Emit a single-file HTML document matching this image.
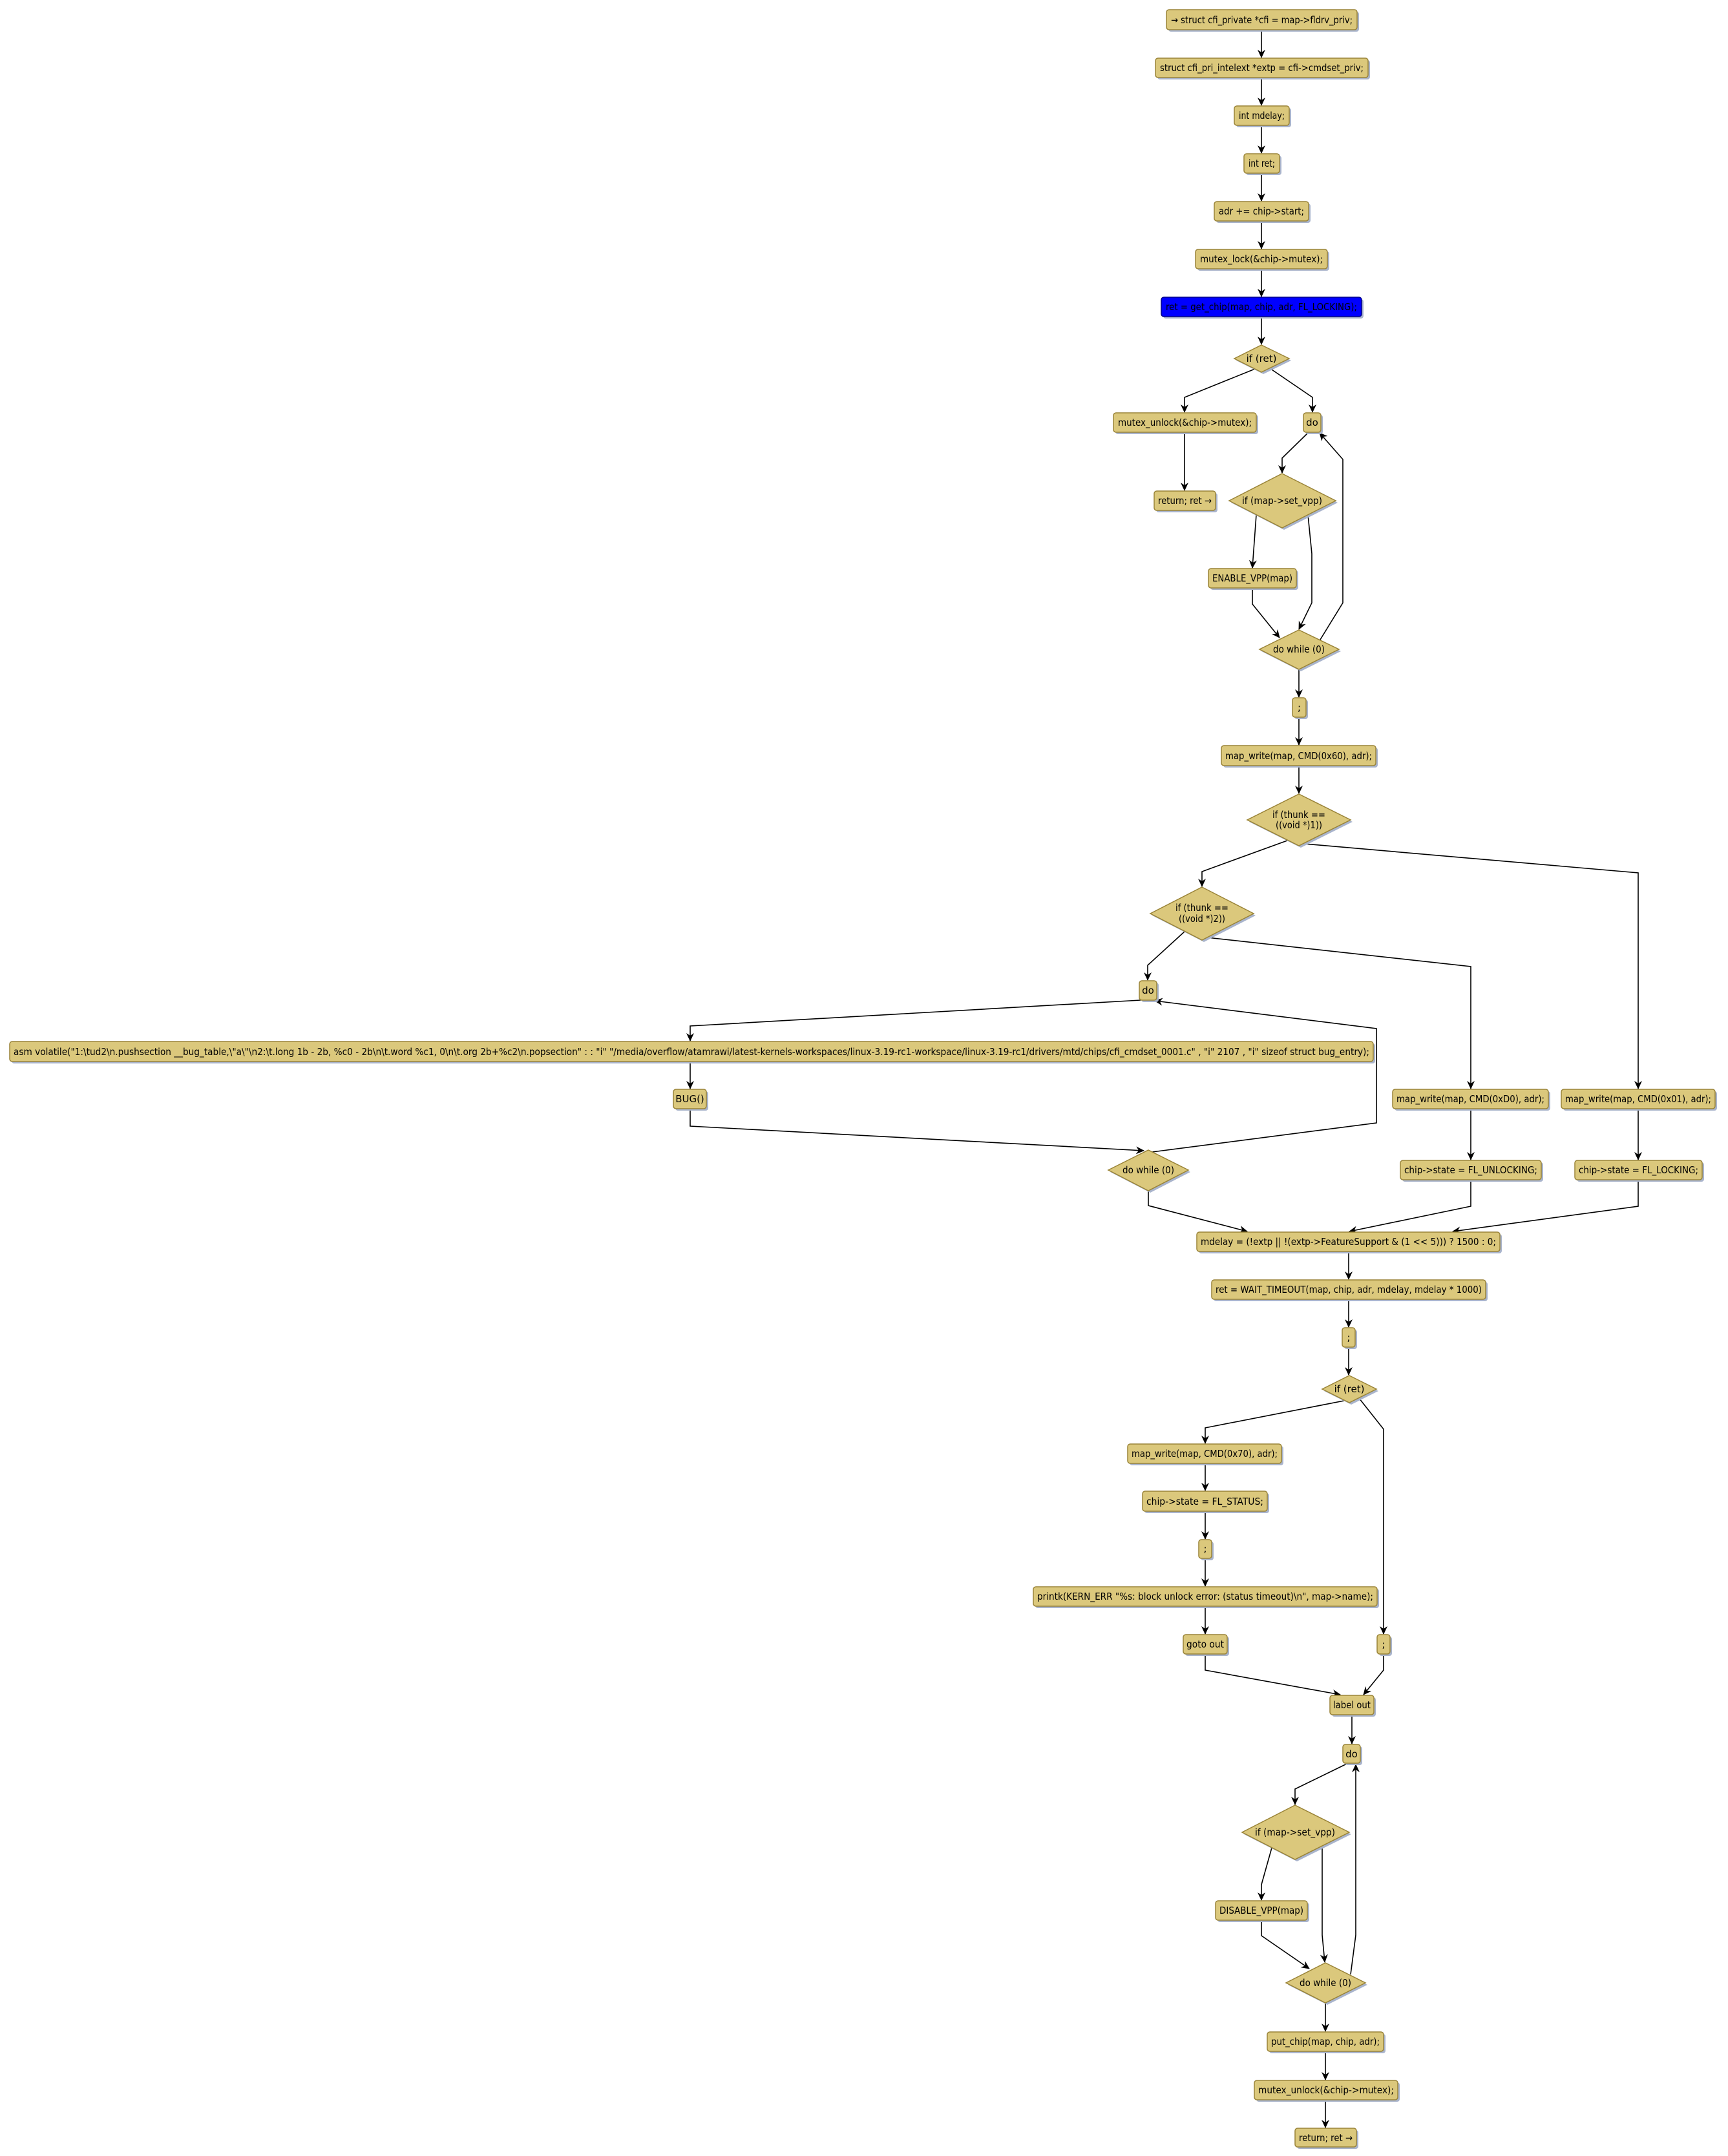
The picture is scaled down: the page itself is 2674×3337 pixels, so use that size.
<!DOCTYPE html>
<html><head><meta charset="utf-8"><style>
html,body{margin:0;padding:0;background:#fff;}
svg{display:block;}
text{font-family:"DejaVu Sans","Liberation Sans",sans-serif;font-size:15px;fill:#000;}
.b{fill:#dbc87c;stroke:#9a8438;stroke-width:1.5;}
.s{fill:#a9b4cc;}
.l{fill:none;stroke:#000;stroke-width:1.6;}
</style></head><body>
<svg width="2674" height="3337" viewBox="0 0 2674 3337" xmlns="http://www.w3.org/2000/svg">
<defs>
<marker id="a" markerUnits="userSpaceOnUse" markerWidth="14" markerHeight="14" refX="12" refY="7" orient="auto">
<path d="M0,1 L13,7 L0,13 L4,7 z" fill="#000"/></marker>
</defs>

<!-- connectors -->
<g class="l" marker-end="url(#a)">
<path d="M1952,46 V89"/>
<path d="M1952,120 V163"/>
<path d="M1952,194 V237"/>
<path d="M1952,268 V311"/>
<path d="M1952,342 V385"/>
<path d="M1952,416 V459"/>
<path d="M1952,490 V533"/>
<path d="M1942,571 L1833,615 V638"/>
<path d="M1833,669 V759"/>
<path d="M1965,570 L2031,615 V638"/>
<path d="M2024,670 L1984,709 V732"/>
<path d="M1944,797 L1938,879"/>
<path d="M2024,797 L2030,857 V933 L2010,974"/>
<path d="M1938,910 V935 L1980,987"/>
<path d="M2043,990 L2078,933 V711 L2042,670"/>
<path d="M2010,1036 V1079"/>
<path d="M2010,1110 V1153"/>
<path d="M2010,1185 V1228"/>
<path d="M1992,1301 L1860,1349 V1372"/>
<path d="M2018,1306 L2535,1351 V1685"/>
<path d="M1834,1441 L1776,1494 V1517"/>
<path d="M1868,1451 L2276,1496 V1685"/>
<path d="M1765,1548 L1068,1588 V1611"/>
<path d="M1068,1643 V1685"/>
<path d="M1068,1716 V1743 L1770,1781"/>
<path d="M1783,1783 L2130,1738 V1592 L1787,1549"/>
<path d="M2276,1716 V1795"/>
<path d="M2535,1716 V1795"/>
<path d="M1777,1843 V1866 L1930,1906"/>
<path d="M2276,1826 V1867 L2088,1906"/>
<path d="M2535,1826 V1867 L2248,1906"/>
<path d="M2087,1937 V1980"/>
<path d="M2087,2011 V2054"/>
<path d="M2087,2085 V2128"/>
<path d="M2080,2168 L1865,2210 V2234"/>
<path d="M1865,2265 V2307"/>
<path d="M1865,2339 V2382"/>
<path d="M1865,2412 V2455"/>
<path d="M1865,2486 V2529"/>
<path d="M2103,2164 L2141,2212 V2529"/>
<path d="M1865,2560 V2585 L2074,2623"/>
<path d="M2141,2560 V2585 L2110,2623"/>
<path d="M2092,2654 V2699"/>
<path d="M2084,2730 L2004,2769 V2793"/>
<path d="M1968,2860 L1952,2917 V2941"/>
<path d="M2046,2857 V2995 L2050,3037"/>
<path d="M1952,2972 V2996 L2026,3047"/>
<path d="M2090,3056 L2098,2995 V2731"/>
<path d="M2051,3100 V3144"/>
<path d="M2051,3175 V3219"/>
<path d="M2051,3250 V3293"/>
</g>

<!-- boxes -->
<g>
<rect class="s" x="1808" y="18" width="295" height="31" rx="4"/><rect class="b" x="1805" y="15" width="295" height="31" rx="4"/>
<text x="1812" y="36" textLength="281" lengthAdjust="spacingAndGlyphs">→ struct cfi_private *cfi = map-&gt;fldrv_priv;</text>

<rect class="s" x="1791" y="93" width="329" height="30" rx="4"/><rect class="b" x="1788" y="90" width="329" height="30" rx="4"/>
<text x="1795" y="110" textLength="315" lengthAdjust="spacingAndGlyphs">struct cfi_pri_intelext *extp = cfi-&gt;cmdset_priv;</text>

<rect class="s" x="1913" y="167" width="85" height="30" rx="4"/><rect class="b" x="1910" y="164" width="85" height="30" rx="4"/>
<text x="1917" y="184" textLength="71" lengthAdjust="spacingAndGlyphs">int mdelay;</text>

<rect class="s" x="1928" y="241" width="55" height="30" rx="4"/><rect class="b" x="1925" y="238" width="55" height="30" rx="4"/>
<text x="1932" y="258" textLength="41" lengthAdjust="spacingAndGlyphs">int ret;</text>

<rect class="s" x="1882" y="315" width="146" height="30" rx="4"/><rect class="b" x="1879" y="312" width="146" height="30" rx="4"/>
<text x="1886" y="332" textLength="132" lengthAdjust="spacingAndGlyphs">adr += chip-&gt;start;</text>

<rect class="s" x="1853" y="389" width="204" height="30" rx="4"/><rect class="b" x="1850" y="386" width="204" height="30" rx="4"/>
<text x="1857" y="406" textLength="190" lengthAdjust="spacingAndGlyphs">mutex_lock(&amp;chip-&gt;mutex);</text>

<rect class="s" x="1800" y="463" width="310" height="30" rx="4"/><rect x="1797" y="460" width="310" height="30" rx="4" fill="#0000ff" stroke="#00008a" stroke-width="1.5"/>
<text x="1804" y="480" textLength="296" lengthAdjust="spacingAndGlyphs">ret = get_chip(map, chip, adr, FL_LOCKING);</text>

<polygon class="s" points="1955,537 1998,558 1955,579 1913,558"/><polygon class="b" points="1952,534 1995,555 1952,576 1910,555"/>
<text x="1952" y="560" text-anchor="middle">if (ret)</text>

<rect class="s" x="1726" y="642" width="221" height="30" rx="4"/><rect class="b" x="1723" y="639" width="221" height="30" rx="4"/>
<text x="1730" y="659" textLength="207" lengthAdjust="spacingAndGlyphs">mutex_unlock(&amp;chip-&gt;mutex);</text>

<rect class="s" x="1789" y="763" width="95" height="30" rx="4"/><rect class="b" x="1786" y="760" width="95" height="30" rx="4"/>
<text x="1792" y="780" textLength="83" lengthAdjust="spacingAndGlyphs">return; ret →</text>

<rect class="s" x="2020" y="642" width="27" height="30" rx="4"/><rect class="b" x="2017" y="639" width="27" height="30" rx="4"/>
<text x="2030.5" y="659" text-anchor="middle">do</text>

<polygon class="s" points="1987,736 2070,778 1987,820 1905,778"/><polygon class="b" points="1984,733 2067,775 1984,817 1902,775"/>
<text x="1984" y="780" text-anchor="middle" textLength="124" lengthAdjust="spacingAndGlyphs">if (map-&gt;set_vpp)</text>

<rect class="s" x="1873" y="883" width="136" height="30" rx="4"/><rect class="b" x="1870" y="880" width="136" height="30" rx="4"/>
<text x="1876" y="900" textLength="124" lengthAdjust="spacingAndGlyphs">ENABLE_VPP(map)</text>

<polygon class="s" points="2013,978 2075,1008 2013,1039 1952,1008"/><polygon class="b" points="2010,975 2072,1005 2010,1036 1949,1005"/>
<text x="2010" y="1010" text-anchor="middle" textLength="80" lengthAdjust="spacingAndGlyphs">do while (0)</text>

<rect class="s" x="2003" y="1083" width="21" height="30" rx="4"/><rect class="b" x="2000" y="1080" width="21" height="30" rx="4"/>
<text x="2010.5" y="1100" text-anchor="middle">;</text>

<rect class="s" x="1893" y="1157" width="239" height="31" rx="4"/><rect class="b" x="1890" y="1154" width="239" height="31" rx="4"/>
<text x="1896" y="1175" textLength="227" lengthAdjust="spacingAndGlyphs">map_write(map, CMD(0x60), adr);</text>

<polygon class="s" points="2013,1232 2093,1272 2013,1312 1933,1272"/><polygon class="b" points="2010,1229 2090,1269 2010,1309 1930,1269"/>
<text x="2010" y="1266" text-anchor="middle" textLength="82" lengthAdjust="spacingAndGlyphs">if (thunk ==</text>
<text x="2010" y="1282" text-anchor="middle" textLength="72" lengthAdjust="spacingAndGlyphs">((void *)1))</text>

<polygon class="s" points="1863,1376 1943,1417 1863,1458 1783,1417"/><polygon class="b" points="1860,1373 1940,1414 1860,1455 1780,1414"/>
<text x="1860" y="1410" text-anchor="middle" textLength="82" lengthAdjust="spacingAndGlyphs">if (thunk ==</text>
<text x="1860" y="1427" text-anchor="middle" textLength="72" lengthAdjust="spacingAndGlyphs">((void *)2))</text>

<rect class="s" x="1766" y="1521" width="27" height="30" rx="4"/><rect class="b" x="1763" y="1518" width="27" height="30" rx="4"/>
<text x="1776.5" y="1538" text-anchor="middle">do</text>

<rect class="s" x="18" y="1615" width="2110" height="31" rx="4"/><rect class="b" x="15" y="1612" width="2110" height="31" rx="4"/>
<text x="21" y="1633" textLength="2098" lengthAdjust="spacingAndGlyphs">asm volatile("1:\tud2\n.pushsection __bug_table,\"a\"\n2:\t.long 1b - 2b, %c0 - 2b\n\t.word %c1, 0\n\t.org 2b+%c2\n.popsection" : : "i" "/media/overflow/atamrawi/latest-kernels-workspaces/linux-3.19-rc1-workspace/linux-3.19-rc1/drivers/mtd/chips/cfi_cmdset_0001.c" , "i" 2107 , "i" sizeof struct bug_entry);</text>

<rect class="s" x="1045" y="1689" width="51" height="30" rx="4"/><rect class="b" x="1042" y="1686" width="51" height="30" rx="4"/>
<text x="1067.5" y="1706" text-anchor="middle">BUG()</text>

<polygon class="s" points="1780,1783 1842,1814 1780,1846 1718,1814"/><polygon class="b" points="1777,1780 1839,1811 1777,1843 1715,1811"/>
<text x="1777" y="1816" text-anchor="middle" textLength="80" lengthAdjust="spacingAndGlyphs">do while (0)</text>

<rect class="s" x="2158" y="1689" width="241" height="30" rx="4"/><rect class="b" x="2155" y="1686" width="241" height="30" rx="4"/>
<text x="2161" y="1706" textLength="229" lengthAdjust="spacingAndGlyphs">map_write(map, CMD(0xD0), adr);</text>

<rect class="s" x="2170" y="1799" width="218" height="30" rx="4"/><rect class="b" x="2167" y="1796" width="218" height="30" rx="4"/>
<text x="2173" y="1816" textLength="206" lengthAdjust="spacingAndGlyphs">chip-&gt;state = FL_UNLOCKING;</text>

<rect class="s" x="2419" y="1689" width="238" height="30" rx="4"/><rect class="b" x="2416" y="1686" width="238" height="30" rx="4"/>
<text x="2422" y="1706" textLength="226" lengthAdjust="spacingAndGlyphs">map_write(map, CMD(0x01), adr);</text>

<rect class="s" x="2440" y="1799" width="197" height="30" rx="4"/><rect class="b" x="2437" y="1796" width="197" height="30" rx="4"/>
<text x="2443" y="1816" textLength="185" lengthAdjust="spacingAndGlyphs">chip-&gt;state = FL_LOCKING;</text>

<rect class="s" x="1855" y="1910" width="469" height="30" rx="4"/><rect class="b" x="1852" y="1907" width="469" height="30" rx="4"/>
<text x="1858" y="1927" textLength="457" lengthAdjust="spacingAndGlyphs">mdelay = (!extp || !(extp-&gt;FeatureSupport &amp; (1 &lt;&lt; 5))) ? 1500 : 0;</text>

<rect class="s" x="1878" y="1984" width="424" height="30" rx="4"/><rect class="b" x="1875" y="1981" width="424" height="30" rx="4"/>
<text x="1881" y="2001" textLength="412" lengthAdjust="spacingAndGlyphs">ret = WAIT_TIMEOUT(map, chip, adr, mdelay, mdelay * 1000)</text>

<rect class="s" x="2080" y="2058" width="20" height="30" rx="4"/><rect class="b" x="2077" y="2055" width="20" height="30" rx="4"/>
<text x="2087" y="2075" text-anchor="middle">;</text>

<polygon class="s" points="2091,2132 2133,2153 2091,2174 2049,2153"/><polygon class="b" points="2088,2129 2130,2150 2088,2171 2046,2150"/>
<text x="2088" y="2155" text-anchor="middle">if (ret)</text>

<rect class="s" x="1748" y="2238" width="238" height="30" rx="4"/><rect class="b" x="1745" y="2235" width="238" height="30" rx="4"/>
<text x="1751" y="2255" textLength="226" lengthAdjust="spacingAndGlyphs">map_write(map, CMD(0x70), adr);</text>

<rect class="s" x="1771" y="2311" width="193" height="31" rx="4"/><rect class="b" x="1768" y="2308" width="193" height="31" rx="4"/>
<text x="1774" y="2329" textLength="181" lengthAdjust="spacingAndGlyphs">chip-&gt;state = FL_STATUS;</text>

<rect class="s" x="1858" y="2386" width="20" height="29" rx="4"/><rect class="b" x="1855" y="2383" width="20" height="29" rx="4"/>
<text x="1865" y="2402" text-anchor="middle">;</text>

<rect class="s" x="1602" y="2459" width="532" height="30" rx="4"/><rect class="b" x="1599" y="2456" width="532" height="30" rx="4"/>
<text x="1605" y="2476" textLength="520" lengthAdjust="spacingAndGlyphs">printk(KERN_ERR "%s: block unlock error: (status timeout)\n", map-&gt;name);</text>

<rect class="s" x="1834" y="2533" width="68" height="30" rx="4"/><rect class="b" x="1831" y="2530" width="68" height="30" rx="4"/>
<text x="1836" y="2550" textLength="58" lengthAdjust="spacingAndGlyphs">goto out</text>

<rect class="s" x="2134" y="2533" width="20" height="30" rx="4"/><rect class="b" x="2131" y="2530" width="20" height="30" rx="4"/>
<text x="2141" y="2550" text-anchor="middle">;</text>

<rect class="s" x="2061" y="2627" width="68" height="30" rx="4"/><rect class="b" x="2058" y="2624" width="68" height="30" rx="4"/>
<text x="2063" y="2644" textLength="58" lengthAdjust="spacingAndGlyphs">label out</text>

<rect class="s" x="2081" y="2703" width="27" height="29" rx="4"/><rect class="b" x="2078" y="2700" width="27" height="29" rx="4"/>
<text x="2091.5" y="2720" text-anchor="middle">do</text>

<polygon class="s" points="2007,2797 2091,2839 2007,2881 1925,2839"/><polygon class="b" points="2004,2794 2088,2836 2004,2878 1922,2836"/>
<text x="2004" y="2841" text-anchor="middle" textLength="124" lengthAdjust="spacingAndGlyphs">if (map-&gt;set_vpp)</text>

<rect class="s" x="1884" y="2945" width="142" height="30" rx="4"/><rect class="b" x="1881" y="2942" width="142" height="30" rx="4"/>
<text x="1887" y="2962" textLength="130" lengthAdjust="spacingAndGlyphs">DISABLE_VPP(map)</text>

<polygon class="s" points="2054,3041 2116,3072 2054,3103 1993,3072"/><polygon class="b" points="2051,3038 2113,3069 2051,3100 1990,3069"/>
<text x="2051" y="3074" text-anchor="middle" textLength="80" lengthAdjust="spacingAndGlyphs">do while (0)</text>

<rect class="s" x="1964" y="3148" width="180" height="30" rx="4"/><rect class="b" x="1961" y="3145" width="180" height="30" rx="4"/>
<text x="1967" y="3165" textLength="168" lengthAdjust="spacingAndGlyphs">put_chip(map, chip, adr);</text>

<rect class="s" x="1944" y="3223" width="222" height="30" rx="4"/><rect class="b" x="1941" y="3220" width="222" height="30" rx="4"/>
<text x="1947" y="3240" textLength="210" lengthAdjust="spacingAndGlyphs">mutex_unlock(&amp;chip-&gt;mutex);</text>

<rect class="s" x="2007" y="3297" width="95" height="29" rx="4"/><rect class="b" x="2004" y="3294" width="95" height="29" rx="4"/>
<text x="2010" y="3314" textLength="83" lengthAdjust="spacingAndGlyphs">return; ret →</text>
</g>
</svg>
</body></html>
